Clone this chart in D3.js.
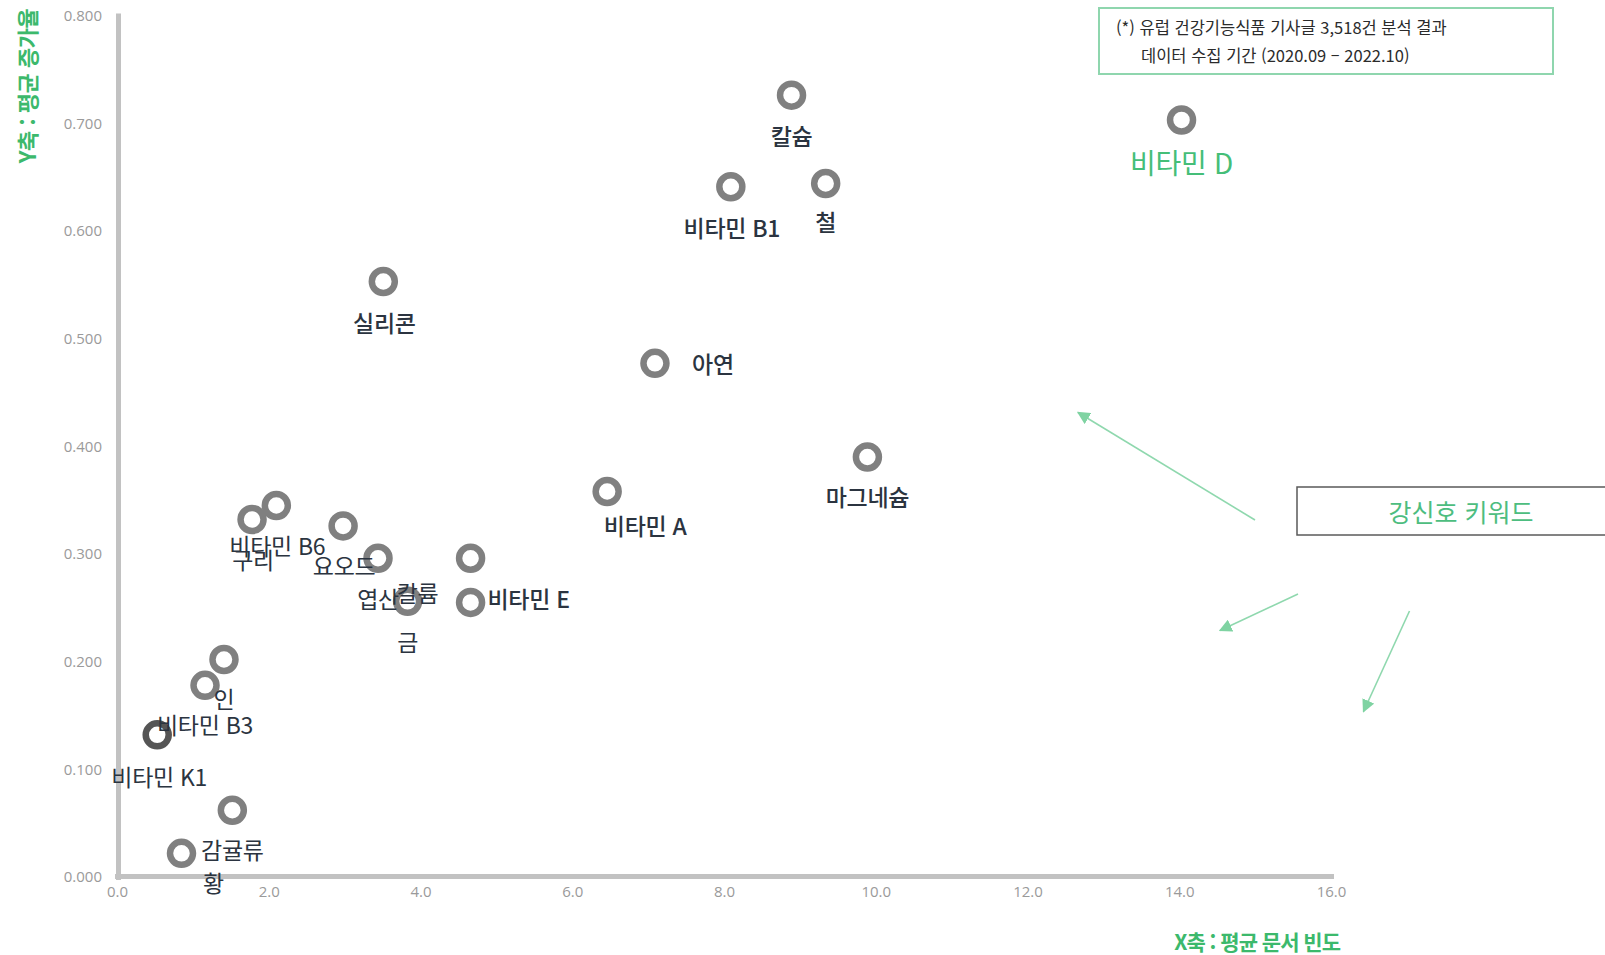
<!DOCTYPE html>
<html lang="ko">
<head>
<meta charset="utf-8">
<script src="https://cdn.jsdelivr.net/npm/d3@7/dist/d3.min.js"></script>
<style>
  html, body { margin: 0; padding: 0; background: #ffffff; }
  svg { display: block; font-family: "Noto Sans CJK KR", "Noto Sans", sans-serif; }
</style>
</head>
<body>
<svg id="chart" width="1605" height="955"></svg>
<script>
// ---- data ----
const names = ["비타민 D","칼슘","철","비타민 B1","실리콘","아연","마그네슘","비타민 A","비타민 E","칼륨",
               "금","엽산","요오드","비타민 B6","구리","인","비타민 B3","비타민 K1","감귤류","황"];
const docFreq = [14.03, 8.89, 9.34, 8.09, 3.51, 7.09, 9.89, 6.46, 4.66, 4.66,
                 3.83, 3.44, 2.98, 2.10, 1.78, 1.41, 1.16, 0.53, 1.52, 0.85];
const growth  = [0.703, 0.726, 0.644, 0.641, 0.553, 0.477, 0.390, 0.358, 0.255, 0.296,
                 0.256, 0.296, 0.326, 0.345, 0.332, 0.202, 0.178, 0.132, 0.062, 0.022];
const xTicks = [0, 2, 4, 6, 8, 10, 12, 14, 16];
const yTicks = [0, 0.1, 0.2, 0.3, 0.4, 0.5, 0.6, 0.7, 0.8];
const xTitle = "X축 : 평균 문서 빈도";
const yTitle = "Y축 : 평균 증가율";
const noteLines = ["(*) 유럽 건강기능식품 기사글 3,518건 분석 결과", "데이터 수집 기간 (2020.09 – 2022.10)"];
const keywordLabel = "강신호 키워드";

// ---- layout (label offsets from point centre, px) ----
const labelOffset = {
  "비타민 D": [0, 42], "칼슘": [0, 40], "철": [0, 38], "비타민 B1": [1, 40], "실리콘": [1, 41],
  "아연": [58, 0], "마그네슘": [0, 39], "비타민 A": [38, 34], "비타민 E": [58, -4], "칼륨": [-53, 34],
  "금": [0, 40], "엽산": [0, 40], "요오드": [1, 39], "비타민 B6": [1, 40], "구리": [1, 40],
  "인": [0, 39], "비타민 B3": [0, 39], "비타민 K1": [2, 41], "감귤류": [0, 39], "황": [32, 29]
};
const strongLabels = new Set(["칼슘","철","비타민 B1","실리콘","아연","마그네슘","비타민 A","비타민 E"]);

const GREEN = "#3cb96c";
const svg = d3.select("#chart");

const x = d3.scaleLinear().domain([0, 16]).range([117, 1331]);
const y = d3.scaleLinear().domain([0, 0.8]).range([877, 15.5]);

// axes
const yAxis = svg.append("g").attr("transform", "translate(118,0)")
  .call(d3.axisLeft(y).tickValues(yTicks).tickSize(0).tickSizeOuter(0).tickPadding(16).tickFormat(d3.format(".3f")));
const xAxis = svg.append("g").attr("transform", "translate(0,876)")
  .call(d3.axisBottom(x).tickValues(xTicks).tickSize(0).tickSizeOuter(0).tickPadding(10).tickFormat(d3.format(".1f")));
[xAxis, yAxis].forEach(g => {
  g.select(".domain").attr("stroke", "#c2c2c2").attr("stroke-width", 5).attr("stroke-linecap", "square");
  g.selectAll("text").attr("fill", "#9a9a9a").attr("font-size", 15)
    .attr("font-family", "'Open Sans', 'Noto Sans', sans-serif");
});

// axis titles
svg.append("text")
  .attr("transform", "translate(26,86) rotate(-90)")
  .attr("text-anchor", "middle").attr("dominant-baseline", "central")
  .attr("fill", GREEN).attr("font-size", 22).attr("font-weight", 700).attr("letter-spacing", -0.5)
  .text(yTitle);
svg.append("text")
  .attr("x", 1340).attr("y", 941)
  .attr("text-anchor", "end").attr("dominant-baseline", "central")
  .attr("fill", GREEN).attr("font-size", 21).attr("font-weight", 700).attr("letter-spacing", -1)
  .text(xTitle);

// note box
svg.append("rect").attr("x", 1099).attr("y", 8).attr("width", 454).attr("height", 66)
  .attr("fill", "none").attr("stroke", "#8fd6ae").attr("stroke-width", 2);
svg.append("text").attr("x", 1116).attr("y", 27).attr("dominant-baseline", "central")
  .attr("fill", "#2b2b2b").attr("font-size", 16.5).text(noteLines[0]);
svg.append("text").attr("x", 1141).attr("y", 55).attr("dominant-baseline", "central")
  .attr("fill", "#2b2b2b").attr("font-size", 16.5).text(noteLines[1]);

// keyword box + arrows
svg.append("rect").attr("x", 1297).attr("y", 487).attr("width", 320).attr("height", 48)
  .attr("fill", "none").attr("stroke", "#5a5a5a").attr("stroke-width", 1.5);
svg.append("text").attr("x", 1461).attr("y", 511).attr("text-anchor", "middle").attr("dominant-baseline", "central")
  .attr("fill", "#4dbd80").attr("font-size", 25).text(keywordLabel);

svg.append("defs").append("marker")
  .attr("id", "arrowhead").attr("viewBox", "0 0 10 10").attr("refX", 9).attr("refY", 5)
  .attr("markerWidth", 13).attr("markerHeight", 13).attr("markerUnits", "userSpaceOnUse").attr("orient", "auto")
  .append("path").attr("d", "M0,0 L10,5 L0,10 Z").attr("fill", "#7fd3a2");
const arrows = [
  [[1255, 520], [1078, 412.5]],
  [[1298, 594], [1220, 630.5]],
  [[1409.5, 611], [1363.5, 711.5]]
];
svg.append("g").selectAll("line").data(arrows).join("line")
  .attr("x1", d => d[0][0]).attr("y1", d => d[0][1])
  .attr("x2", d => d[1][0]).attr("y2", d => d[1][1])
  .attr("stroke", "#8fd8ae").attr("stroke-width", 1.6)
  .attr("marker-end", "url(#arrowhead)");

// points
const data = names.map((n, i) => ({ name: n, fx: docFreq[i], gy: growth[i] }));
svg.append("g").selectAll("circle").data(data).join("circle")
  .attr("cx", d => x(d.fx)).attr("cy", d => y(d.gy)).attr("r", 11.5)
  .attr("fill", "none")
  .attr("stroke", d => d.name === "비타민 K1" ? "#555555" : "#808080")
  .attr("stroke-width", 6.5);

// labels
svg.append("g").selectAll("text").data(data).join("text")
  .attr("x", d => x(d.fx) + labelOffset[d.name][0])
  .attr("y", d => y(d.gy) + labelOffset[d.name][1])
  .attr("text-anchor", "middle").attr("dominant-baseline", "central")
  .attr("fill", d => d.name === "비타민 D" ? "#45be78" : "#2b3440")
  .attr("font-size", d => d.name === "비타민 D" ? 28 : 23)
  .attr("font-weight", d => strongLabels.has(d.name) ? 500 : 400)
  .attr("letter-spacing", -0.3)
  .text(d => d.name);
</script>
</body>
</html>
